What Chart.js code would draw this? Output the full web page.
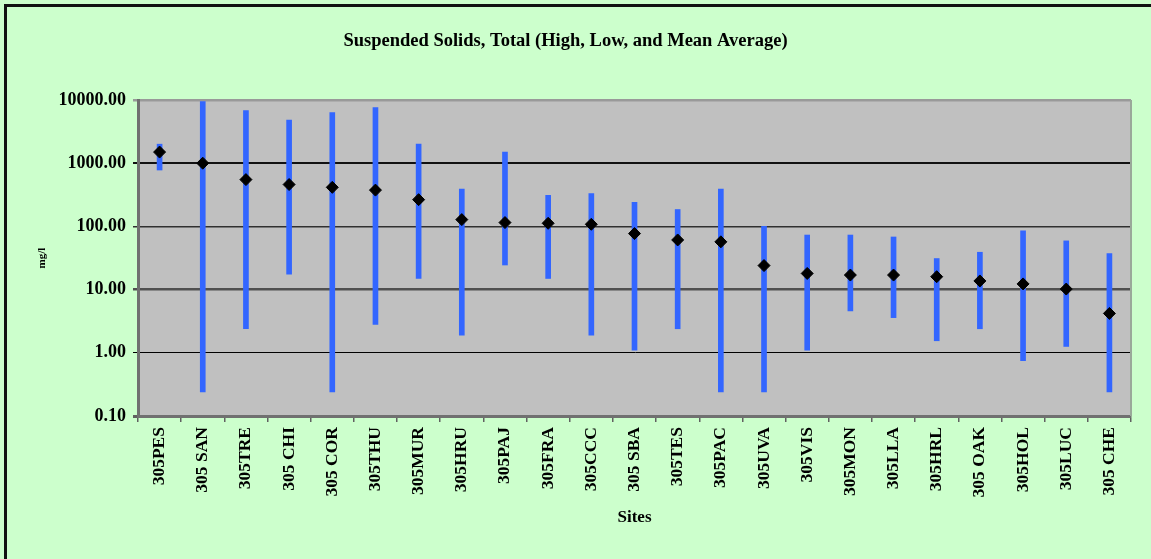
<!DOCTYPE html>
<html>
<head>
<meta charset="utf-8">
<script src="https://cdn.jsdelivr.net/npm/chart.js@4.4.0/dist/chart.umd.min.js"></script>
<style>
  html, body { margin: 0; padding: 0; background: #ccffcc; }
  #wrap { position: relative; width: 1151px; height: 559px; overflow: hidden; }
  #frame { position: absolute; left: 4px; top: 4px; right: -10px; bottom: -10px;
           border-left: 3px solid #111; border-top: 3px solid #111; pointer-events: none; }
  canvas { position: absolute; left: 0; top: 0; }
</style>
</head>
<body>
<div id="wrap">
  <canvas id="chart" width="1151" height="559"></canvas>
  <div id="frame"></div>
</div>
<script>
// ═══ DATA ═══
const sites = ['305PES', '305 SAN', '305TRE', '305 CHI', '305 COR', '305THU', '305MUR', '305HRU',
  '305PAJ', '305FRA', '305CCC', '305 SBA', '305TES', '305PAC', '305UVA', '305VIS', '305MON',
  '305LLA', '305HRL', '305 OAK', '305HOL', '305LUC', '305 CHE'];
const highValues = [2000, 9400, 6800, 4800, 6300, 7600, 2000, 390, 1500, 310, 330, 240, 185,
  390, 100, 73, 73, 68, 31, 39, 85, 59, 37];
const lowValues = [780, 0.24, 2.4, 17.5, 0.24, 2.8, 15, 1.9, 24.5, 15, 1.9, 1.1, 2.4,
  0.24, 0.24, 1.1, 4.6, 3.6, 1.55, 2.4, 0.75, 1.26, 0.24];
const meanValues = [1500, 1000, 550, 460, 415, 375, 265, 128, 115, 112, 108, 77, 61,
  57, 24, 18, 17, 17, 16, 13.7, 12.3, 10.2, 4.2];
const yTicks = [0.1, 1, 10, 100, 1000, 10000];

// gridline look per decade (bottom to top)
const gridColors = ['#606060', '#000000', '#505050', '#303030', '#111111', '#999999'];
const gridWidths = [3, 1, 2.5, 1.5, 2, 2.5];

Chart.defaults.font.family = "'Liberation Serif', 'DejaVu Serif', serif";
Chart.defaults.color = '#000';

const plotBg = {
  id: 'plotBg',
  beforeDraw(chart) {
    const { ctx, chartArea: a } = chart;
    ctx.save();
    ctx.fillStyle = '#c0c0c0';
    ctx.fillRect(a.left, a.top, a.right - a.left, a.bottom - a.top);
    ctx.restore();
  },
  afterDraw(chart) {
    const { ctx, chartArea: a } = chart;
    ctx.save();
    ctx.strokeStyle = '#9aa89a';
    ctx.lineWidth = 2;
    ctx.beginPath();
    ctx.moveTo(a.right, a.top);
    ctx.lineTo(a.right, a.bottom);
    ctx.stroke();
    ctx.restore();
  }
};

new Chart(document.getElementById('chart'), {
  type: 'bar',
  data: {
    labels: sites,
    datasets: [
      {
        type: 'line',
        label: 'Mean',
        data: meanValues,
        showLine: false,
        pointStyle: 'rectRot',
        pointRadius: 6,
        pointBackgroundColor: '#000',
        pointBorderColor: '#000',
        pointBorderWidth: 1,
        order: 0
      },
      {
        label: 'Range',
        data: sites.map((_, i) => [lowValues[i], highValues[i]]),
        backgroundColor: '#3366ff',
        borderWidth: 0,
        barThickness: 5,
        order: 1
      }
    ]
  },
  plugins: [plotBg],
  options: {
    responsive: false,
    animation: false,
    layout: { padding: { left: 0, right: 20, top: 0, bottom: 0 } },
    plugins: {
      legend: { display: false },
      tooltip: { enabled: false },
      title: {
        display: true,
        text: 'Suspended Solids, Total (High, Low, and Mean Average)',
        font: { size: 18.5, weight: 'bold' },
        color: '#000',
        padding: { top: 30, bottom: 47.8 }
      }
    },
    scales: {
      x: {
        offset: true,
        grid: { drawOnChartArea: false, drawTicks: true, tickLength: 6, color: '#606060', lineWidth: 1.5, offset: true },
        border: { color: '#707070', width: 3 },
        ticks: { autoSkip: false, minRotation: 90, maxRotation: 90, padding: 5,
                 font: { size: 17.5, weight: 'bold' }, color: '#000' },
        title: { display: true, text: 'Sites', font: { size: 17, weight: 'bold' }, color: '#000',
                 padding: { top: 0, bottom: 31 } },
        afterFit(scale) { scale.height = 143; }
      },
      y: {
        type: 'logarithmic',
        min: 0.1,
        max: 10000,
        afterBuildTicks(scale) { scale.ticks = yTicks.map(v => ({ value: v })); },
        grid: {
          color: gridColors,
          lineWidth: gridWidths,
          tickLength: 5,
          drawTicks: true
        },
        border: { color: '#707070', width: 3 },
        ticks: {
          padding: 7,
          font: { size: 18, weight: 'bold' },
          color: '#000',
          callback: v => Number(v).toFixed(2)
        },
        title: { display: true, text: 'mg/l', font: { size: 11, weight: 'bold' }, color: '#000',
                 padding: { top: 36, bottom: 0 } },
        afterFit(scale) { scale.width = 138; }
      }
    }
  }
});
</script>
</body>
</html>
